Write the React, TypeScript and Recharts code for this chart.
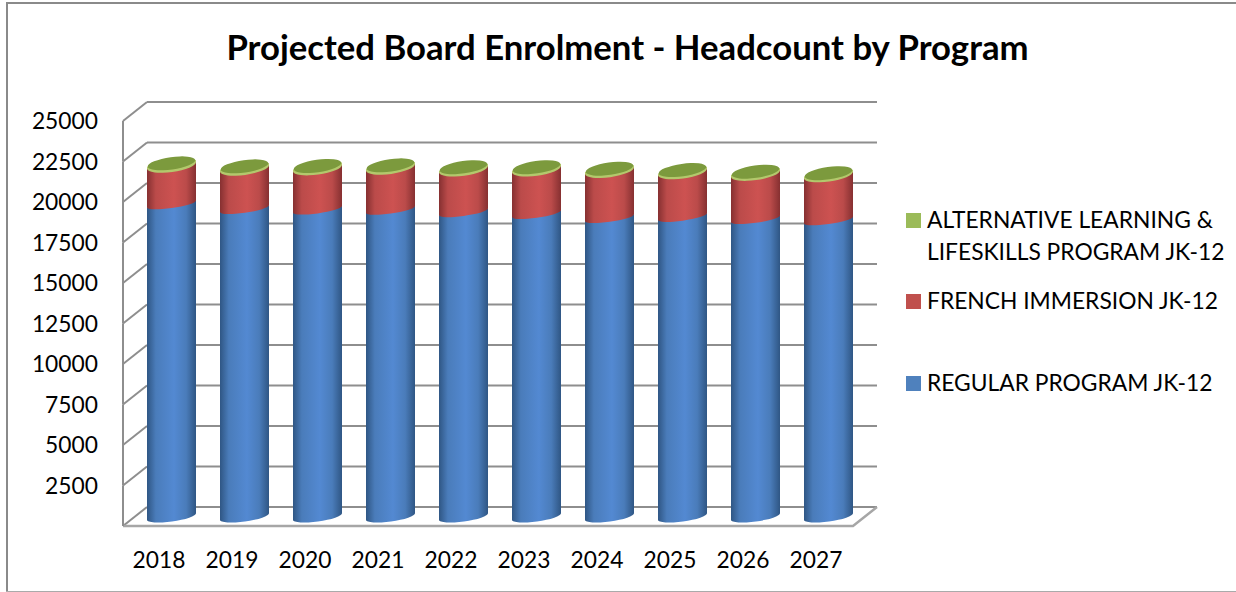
import { BarChart, Bar, XAxis, YAxis, CartesianGrid } from 'recharts';

const years = ['2018', '2019', '2020', '2021', '2022', '2023', '2024', '2025', '2026', '2027'];
const regular = [19290, 19000, 18960, 18950, 18800, 18690, 18440, 18510, 18380, 18300];
const french = [2380, 2490, 2550, 2600, 2640, 2750, 2910, 2760, 2790, 2780];
const alternative = [130, 125, 125, 125, 120, 120, 120, 115, 115, 110];
const yTicks = [0, 2500, 5000, 7500, 10000, 12500, 15000, 17500, 20000, 22500, 25000];

const data = years.map((year, i) => ({
  year,
  regular: regular[i],
  french: french[i],
  alternative: alternative[i],
}));

const FONT = 'Lato, sans-serif';
const GRID = '#8e8e8e';
const PLOT_TOP = 111.5;
const PLOT_H = 405;
// half of the fake 3d depth of the chart floor
const DEPTH_X = 12;
const DEPTH_Y = 9.5;
// ellipse of the cylinders
const TILT = 3.4;
const ROT = -8;

function GridLine(p: any) {
  const { x1, x2, y1 } = p;
  const isFloor = y1 > PLOT_TOP + PLOT_H - 1;
  const common = { stroke: GRID, strokeWidth: 2, fill: 'none' };
  return (
    <g key={p.key ?? y1}>
      <line x1={x1 + DEPTH_X} x2={x2 + DEPTH_X} y1={y1 - DEPTH_Y} y2={y1 - DEPTH_Y} {...common} />
      <line x1={x1 - DEPTH_X} x2={x1 + DEPTH_X} y1={y1 + DEPTH_Y} y2={y1 - DEPTH_Y} {...common} />
      {!isFloor && (
        <line x1={x1 - DEPTH_X} x2={x1 - DEPTH_X} y1={y1 + DEPTH_Y} y2={y1 + DEPTH_Y + PLOT_H / 10} {...common} />
      )}
      {isFloor && (
        <polyline
          points={`${x1 - DEPTH_X},${y1 + DEPTH_Y} ${x2 - DEPTH_X},${y1 + DEPTH_Y} ${x2 + DEPTH_X},${y1 - DEPTH_Y}`}
          {...common}
          stroke="#a6a6a6"
          strokeWidth={2.5}
        />
      )}
    </g>
  );
}

function body(x: number, y: number, w: number, h: number, sag: number) {
  const rx = w / 2;
  return `M${x},${y + TILT} L${x},${y + h + TILT} A${rx},${sag} ${ROT} 0 0 ${x + w},${y + h - TILT} L${x + w},${y - TILT} Z`;
}

function Cylinder(props: any) {
  const { x, y, width, height, gradient, sag } = props;
  return <path d={body(x, y, width, height, sag)} fill={`url(#${gradient})`} />;
}

function TopCylinder(props: any) {
  const { x, y, width, height } = props;
  const rx = width / 2;
  return (
    <g>
      <path d={body(x, y, width, height, 6.5)} fill="#b3c86c" />
      <ellipse
        cx={x + rx}
        cy={y}
        rx={rx - 0.5}
        ry={6.2}
        fill="#7c9a3d"
        transform={`rotate(${ROT} ${x + rx} ${y})`}
      />
    </g>
  );
}

function YTick({ y, payload }: any) {
  if (payload.value === 0) return null;
  return (
    <text x={98} y={y + DEPTH_Y + 8} textAnchor="end" fontFamily={FONT} fontSize={22.8} fill="#000">
      {payload.value}
    </text>
  );
}

function XTick({ x, payload }: any) {
  return (
    <text x={x - 12.5} y={568} textAnchor="middle" fontFamily={FONT} fontSize={22.8} fill="#000">
      {payload.value}
    </text>
  );
}

function stops(edge: string, soft: string, mid: string) {
  return (
    <>
      <stop offset="0%" stopColor={edge} />
      <stop offset="18%" stopColor={soft} />
      <stop offset="55%" stopColor={mid} />
      <stop offset="80%" stopColor={soft} />
      <stop offset="100%" stopColor={edge} />
    </>
  );
}

const legendRows = [
  { color: '#9bbb59', lines: ['ALTERNATIVE LEARNING &', 'LIFESKILLS PROGRAM JK-12'], top: 203, box: 10 },
  { color: '#c0504d', lines: ['FRENCH IMMERSION JK-12'], top: 284, box: 10 },
  { color: '#4f81bd', lines: ['REGULAR PROGRAM JK-12'], top: 366, box: 10 },
];

export default function App() {
  return (
    <div style={{ position: 'absolute', left: 0, top: 0, width: 1236, height: 592, background: '#fff', overflow: 'hidden', fontFamily: FONT }}>
      <div style={{ position: 'absolute', left: 6, top: 2, right: 0, height: 2, background: '#8a8a8a' }} />
      <div style={{ position: 'absolute', left: 6, top: 2, bottom: 0, width: 2, background: '#8a8a8a' }} />
      <div style={{ position: 'absolute', left: 6, bottom: 0, right: 0, height: 1, background: '#aaa' }} />
      <div style={{ position: 'absolute', left: 0, width: 1255, top: 27, textAlign: 'center', fontSize: 34.7, fontWeight: 700, color: '#000', lineHeight: '40px' }}>
        Projected Board Enrolment - Headcount by Program
      </div>
      <BarChart
        width={1236}
        height={592}
        data={data}
        barSize={49}
        margin={{ left: 134, right: 371, top: PLOT_TOP, bottom: 592 - PLOT_TOP - PLOT_H - 1 }}
      >
        <defs>
          <linearGradient id="blueCyl" x1="0" y1="0" x2="1" y2="0">
            {stops('#2f5684', '#4a7cba', '#5389d2')}
          </linearGradient>
          <linearGradient id="redCyl" x1="0" y1="0" x2="1" y2="0">
            {stops('#863031', '#bb4b4a', '#cd5251')}
          </linearGradient>
        </defs>
        <CartesianGrid vertical={false} horizontal={GridLine as any} />
        <XAxis dataKey="year" axisLine={false} tickLine={false} height={1} interval={0} tick={XTick as any} />
        <YAxis domain={[0, 25000]} ticks={yTicks} width={1} axisLine={false} tickLine={false} interval={0} tick={YTick as any} />
        <Bar dataKey="regular" stackId="a" isAnimationActive={false} shape={(p: any) => <Cylinder {...p} gradient="blueCyl" sag={5} />} />
        <Bar dataKey="french" stackId="a" isAnimationActive={false} shape={(p: any) => <Cylinder {...p} gradient="redCyl" sag={4} />} />
        <Bar dataKey="alternative" stackId="a" isAnimationActive={false} shape={(p: any) => <TopCylinder {...p} />} />
      </BarChart>
      {legendRows.map((row) => (
        <div key={row.color} style={{ position: 'absolute', left: 906, top: row.top, fontSize: 22.8, lineHeight: '32px', color: '#000' }}>
          <span style={{ position: 'absolute', left: 0, top: row.box, width: 15, height: 15, background: row.color }} />
          {row.lines.map((line) => (
            <div key={line} style={{ marginLeft: 21, whiteSpace: 'nowrap' }}>{line}</div>
          ))}
        </div>
      ))}
    </div>
  );
}
